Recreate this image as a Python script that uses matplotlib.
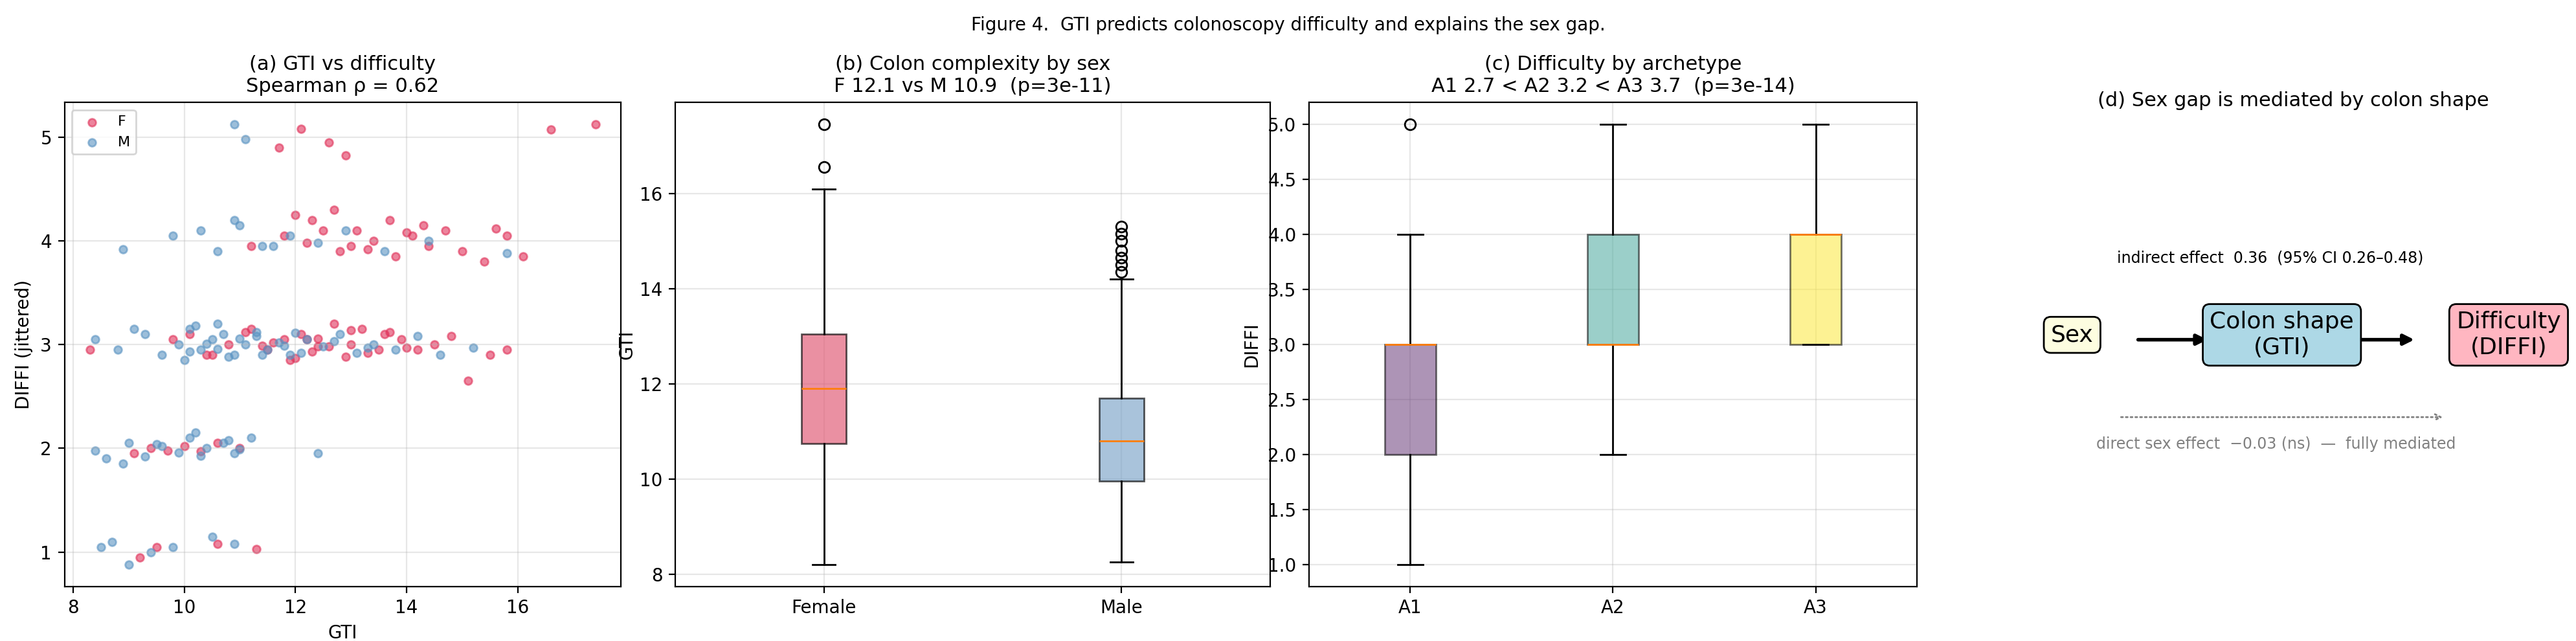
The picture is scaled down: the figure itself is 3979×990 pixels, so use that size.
import matplotlib.pyplot as plt
from matplotlib.patches import FancyArrowPatch

# (a) scatter data: GTI and jittered DIFFI
f_gti = [9.2, 9.5, 10.6, 11.3,
         9.1, 9.4, 9.7, 10.0, 10.3, 10.6, 11.0,
         8.3, 9.8, 10.1, 10.4, 10.8, 11.2, 11.5, 11.8, 12.1, 12.4, 12.7, 13.0, 13.3, 13.6, 13.9,
         14.2, 14.5, 14.8, 15.1, 15.5, 15.8, 11.1, 11.9, 12.6, 13.2, 10.5, 12.2, 12.9, 13.5,
         11.6, 12.3, 13.7, 14.0, 12.4, 11.4, 13.0, 12.0,
         11.2, 11.8, 12.3, 12.8, 13.1, 13.4, 13.8, 14.1, 14.4, 14.7, 15.0, 15.4, 15.8, 16.1,
         12.0, 12.5, 13.0, 13.7, 14.3, 12.7, 13.3, 14.0, 12.2, 15.6,
         11.7, 12.1, 12.6, 12.9, 16.6, 17.4]
f_diffi = [0.95, 1.05, 1.08, 1.03,
           1.95, 2.0, 1.98, 2.02, 1.97, 2.05, 2.0,
           2.95, 3.05, 3.1, 2.9, 3.0, 3.15, 2.95, 3.05, 3.1, 2.98, 3.2, 3.0, 2.92, 3.1, 3.05,
           2.95, 3.0, 3.08, 2.65, 2.9, 2.95, 3.12, 2.85, 2.98, 3.15, 2.9, 3.05, 2.88, 2.95,
           3.02, 2.93, 3.12, 2.97, 3.06, 2.99, 3.14, 2.87,
           3.95, 4.05, 4.2, 3.9, 4.1, 4.0, 3.85, 4.05, 3.95, 4.1, 3.9, 3.8, 4.05, 3.85,
           4.25, 4.1, 3.95, 4.2, 4.15, 4.3, 3.92, 4.08, 3.98, 4.12,
           4.9, 5.08, 4.95, 4.82, 5.07, 5.12]
m_gti = [8.5, 8.7, 9.0, 9.4, 9.8, 10.5, 10.9,
         8.4, 8.6, 9.0, 9.3, 9.6, 9.9, 10.1, 10.4, 10.7, 10.9, 11.2, 12.4, 8.9, 10.2,
         10.3, 10.8, 9.5, 11.0,
         8.4, 8.8, 9.3, 9.6, 9.9, 10.1, 10.3, 10.5, 10.7, 10.9, 11.1, 11.3, 11.5, 11.7,
         11.9, 12.2, 12.5, 12.8, 13.1, 13.4, 13.8, 14.2, 14.6, 15.2, 9.1, 10.0, 10.6, 11.4,
         10.2, 10.8, 11.3, 12.1, 10.4, 10.6, 11.0, 11.8, 12.0, 10.1, 12.7, 13.3,
         8.9, 9.8, 10.3, 10.6, 11.0, 11.4, 11.9, 12.4, 12.9, 13.6, 14.4, 15.8, 10.9, 11.6,
         10.9, 11.1]
m_diffi = [1.05, 1.1, 0.88, 1.0, 1.05, 1.15, 1.08,
           1.98, 1.9, 2.05, 1.92, 2.02, 1.96, 2.1, 2.0, 2.05, 1.95, 2.1, 1.95, 1.85, 2.15,
           1.93, 2.08, 2.04, 1.99,
           3.05, 2.95, 3.1, 2.9, 3.0, 3.15, 2.95, 3.05, 3.1, 2.9, 3.0, 3.08, 2.95, 3.02,
           2.9, 3.05, 2.98, 3.1, 2.92, 3.0, 2.95, 3.08, 2.9, 2.97, 3.15, 2.85, 3.2, 2.9,
           3.18, 2.88, 3.12, 2.92, 3.01, 2.96, 3.06, 2.99, 3.11, 2.93, 3.03, 2.97,
           3.92, 4.05, 4.1, 3.9, 4.15, 3.95, 4.05, 3.98, 4.1, 3.9, 4.0, 3.88, 4.2, 3.95,
           5.12, 4.98]

# (b) GTI box stats by sex
sex_labels = ['Female', 'Male']
sex_stats = [dict(whislo=8.2, q1=10.75, med=11.9, q3=13.05, whishi=16.1, fliers=[16.55, 17.45]),
             dict(whislo=8.25, q1=9.95, med=10.8, q3=11.7, whishi=14.2,
                  fliers=[14.35, 14.5, 14.65, 14.8, 15.0, 15.15, 15.3])]
sex_colors = ['#e05570', '#7ba3c8']

# (c) DIFFI box stats by archetype
arch_labels = ['A1', 'A2', 'A3']
arch_stats = [dict(whislo=1, q1=2, med=3, q3=3, whishi=4, fliers=[5]),
              dict(whislo=2, q1=3, med=3, q3=4, whishi=5, fliers=[]),
              dict(whislo=3, q1=3, med=4, q3=4, whishi=5, fliers=[])]
arch_colors = ['#6a3d7a', '#4aa99d', '#fde93a']

fig = plt.figure(figsize=(19.9, 4.95), dpi=200)
fig.suptitle('Figure 4.  GTI predicts colonoscopy difficulty and explains the sex gap.', fontsize=10, y=0.975)

ax1 = fig.add_axes([0.025, 0.085, 0.216, 0.755])
ax1.scatter(f_gti, f_diffi, s=18, color='#e0325a', alpha=0.6, label='F')
ax1.scatter(m_gti, m_diffi, s=18, color='#5a93c2', alpha=0.6, label='M')
ax1.set_xlabel('GTI')
ax1.set_ylabel('DIFFI (jittered)')
ax1.set_title('(a) GTI vs difficulty\nSpearman ρ = 0.62', fontsize=11)
ax1.grid(alpha=0.3)
ax1.legend(loc='upper left', fontsize=8)

ax2 = fig.add_axes([0.262, 0.085, 0.231, 0.755])
for s, l in zip(sex_stats, sex_labels):
    s['label'] = l
bp = ax2.bxp(sex_stats, patch_artist=True, widths=0.15)
for p, c in zip(bp['boxes'], sex_colors):
    p.set_facecolor(c); p.set_alpha(0.65)
ax2.set_ylabel('GTI', labelpad=2)
ax2.set_title('(b) Colon complexity by sex\nF 12.1 vs M 10.9  (p=3e-11)', fontsize=11)
ax2.grid(alpha=0.3)

ax3 = fig.add_axes([0.508, 0.085, 0.236, 0.755])
for s, l in zip(arch_stats, arch_labels):
    s['label'] = l
bp = ax3.bxp(arch_stats, patch_artist=True, widths=0.25)
for p, c in zip(bp['boxes'], arch_colors):
    p.set_facecolor(c); p.set_alpha(0.55)
ax3.set_ylabel('DIFFI')
ax3.set_title('(c) Difficulty by archetype\nA1 2.7 < A2 3.2 < A3 3.7  (p=3e-14)', fontsize=11)
ax3.grid(alpha=0.3)

ax4 = fig.add_axes([0.78, 0.085, 0.22, 0.755])
ax4.set_xlim(0, 1); ax4.set_ylim(0, 1)
ax4.axis('off')
ax4.set_title('(d) Sex gap is mediated by colon shape', fontsize=11, y=0.97)
box = dict(boxstyle='round,pad=0.3')
ax4.text(0.11, 0.52, 'Sex', ha='center', va='center', fontsize=13,
         bbox=dict(box, fc='#fdfde0', ec='black'))
ax4.text(0.48, 0.52, 'Colon shape\n(GTI)', ha='center', va='center', fontsize=13,
         bbox=dict(box, fc='#add8e6', ec='black'))
ax4.text(0.88, 0.52, 'Difficulty\n(DIFFI)', ha='center', va='center', fontsize=13,
         bbox=dict(box, fc='#ffb6c1', ec='black'))
ax4.add_patch(FancyArrowPatch((0.22, 0.51), (0.355, 0.51), arrowstyle='-|>', mutation_scale=12, lw=2, color='black'))
ax4.add_patch(FancyArrowPatch((0.60, 0.51), (0.72, 0.51), arrowstyle='-|>', mutation_scale=12, lw=2, color='black'))
ax4.text(0.46, 0.67, 'indirect effect  0.36  (95% CI 0.26–0.48)', ha='center', fontsize=8.5)
ax4.add_patch(FancyArrowPatch((0.19, 0.35), (0.77, 0.35), arrowstyle='->', mutation_scale=8,
                              lw=1, ls=':', color='gray'))
ax4.text(0.47, 0.285, 'direct sex effect  −0.03 (ns)  —  fully mediated', ha='center', fontsize=8.5, color='gray')

plt.savefig('out.png', dpi=200)
